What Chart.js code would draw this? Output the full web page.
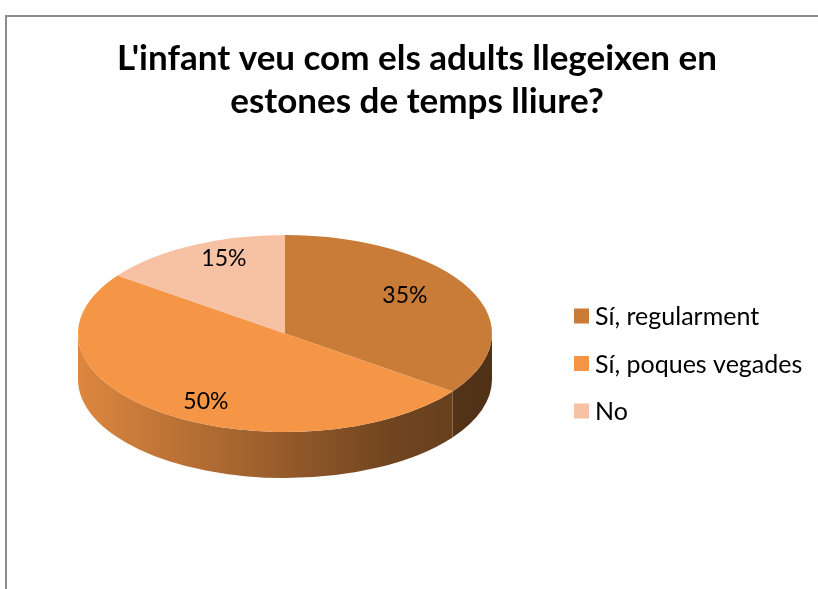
<!DOCTYPE html>
<html>
<head>
<meta charset="utf-8">
<script src="https://cdn.jsdelivr.net/npm/chart.js@4.4.1/dist/chart.umd.min.js"></script>
<style>
  html, body { margin: 0; padding: 0; background: #fff; overflow: hidden; }
  .frame { position: absolute; left: 5px; top: 15px; width: 900px; height: 700px;
           border-top: 2px solid #8c8c8c; border-left: 2px solid #8c8c8c; }
  #pie { position: absolute; left: 0; top: 0; }
</style>
</head>
<body>
<div class="frame"></div>
<canvas id="pie" width="818" height="589"></canvas>
<script>
// chart data
const CATEGORIES = ['Sí, regularment', 'Sí, poques vegades', 'No'];
const VALUES = [35, 50, 15];
const COLORS = ['#C97B38', '#F59646', '#F7C1A4'];
const TITLE = ["L'infant veu com els adults llegeixen en", 'estones de temps lliure?'];

// look of the fake 3D pie
const TILT = 0.476;      // vertical squash of the top face
const DEPTH = 46;        // thickness of the side band
const LABEL_X = 0.65;    // label distance as a fraction of the radius
const LABEL_Y = 0.85;
const LEGEND_WIDTH = 264;
const LEGEND_SHIFT = 30;
const LEGEND_ROW = 47.5;

function shade(hex, k) {
  const n = parseInt(hex.slice(1), 16);
  const r = Math.round(((n >> 16) & 255) * k);
  const g = Math.round(((n >> 8) & 255) * k);
  const b = Math.round((n & 255) * k);
  return `rgb(${r},${g},${b})`;
}

// draws the side of the pie, then squashes the context so the library draws an ellipse
const pie3d = {
  id: 'pie3d',
  beforeDatasetsDraw(chart) {
    const ctx = chart.ctx;
    const arcs = chart.getDatasetMeta(0).data;
    if (!arcs.length) return;
    const cx = arcs[0].x, cy = arcs[0].y, r = arcs[0].outerRadius;
    const ry = r * TILT;

    arcs.forEach((arc, i) => {
      const color = chart.data.datasets[0].backgroundColor[i];
      const grad = ctx.createLinearGradient(cx - r, 0, cx + r, 0);
      grad.addColorStop(0, shade(color, 0.9));
      grad.addColorStop(0.75, shade(color, 0.46));
      grad.addColorStop(1, shade(color, 0.4));
      for (let k = -1; k <= 1; k++) {
        const s = Math.max(arc.startAngle, 2 * Math.PI * k);
        const e = Math.min(arc.endAngle, 2 * Math.PI * k + Math.PI);
        if (e <= s) continue;
        ctx.beginPath();
        ctx.ellipse(cx, cy, r, ry, 0, s, e);
        ctx.ellipse(cx, cy + DEPTH, r, ry, 0, e, s, true);
        ctx.closePath();
        ctx.fillStyle = grad;
        ctx.fill();
      }
    });

    ctx.save();
    ctx.translate(cx, cy);
    ctx.scale(1, TILT);
    ctx.translate(-cx, -cy);
  },
  afterDatasetsDraw(chart) {
    const ctx = chart.ctx;
    ctx.restore();
    const arcs = chart.getDatasetMeta(0).data;
    const values = chart.data.datasets[0].data;
    const total = values.reduce((a, b) => a + b, 0);
    ctx.save();
    ctx.font = '23px Lato';
    ctx.fillStyle = '#000';
    ctx.textAlign = 'center';
    ctx.textBaseline = 'middle';
    arcs.forEach((arc, i) => {
      const mid = (arc.startAngle + arc.endAngle) / 2;
      const x = arc.x + Math.cos(mid) * arc.outerRadius * LABEL_X;
      const y = arc.y + Math.sin(mid) * arc.outerRadius * TILT * LABEL_Y;
      ctx.fillText(Math.round(values[i] / total * 100) + '%', x, y);
    });
    ctx.restore();
  }
};

// legend as its own layout box on the right
const sideLegend = {
  id: 'sideLegend',
  beforeInit(chart) {
    const box = {
      position: 'right', weight: 0, fullSize: false, options: {},
      left: 0, top: 0, right: 0, bottom: 0, width: 0, height: 0,
      isHorizontal() { return false; },
      update(maxWidth, maxHeight) {
        this.width = LEGEND_WIDTH;
        this.height = maxHeight;
      },
      draw() {
        const ctx = chart.ctx;
        const labels = chart.data.labels;
        const colors = chart.data.datasets[0].backgroundColor;
        const midY = (this.top + this.bottom) / 2 + LEGEND_SHIFT;
        ctx.save();
        ctx.font = '25px Lato';
        ctx.textBaseline = 'middle';
        ctx.textAlign = 'left';
        labels.forEach((label, i) => {
          const y = midY + (i - (labels.length - 1) / 2) * LEGEND_ROW;
          ctx.fillStyle = colors[i];
          ctx.fillRect(this.left + 20, y - 7.5, 15, 15);
          ctx.fillStyle = '#000';
          ctx.fillText(label, this.left + 41, y + 1);
        });
        ctx.restore();
      }
    };
    Chart.layouts.addBox(chart, box);
  }
};

new Chart(document.getElementById('pie'), {
  type: 'pie',
  data: {
    labels: CATEGORIES,
    datasets: [{
      data: VALUES,
      backgroundColor: COLORS,
      borderWidth: 0,
      hoverOffset: 0
    }]
  },
  options: {
    responsive: false,
    animation: false,
    events: [],
    layout: { padding: { left: 16, right: 0, top: 0, bottom: 48.5 } },
    plugins: {
      legend: { display: false },
      tooltip: { enabled: false },
      title: {
        display: true,
        text: TITLE,
        color: '#000',
        font: { family: 'Lato', size: 35, weight: 'bold', lineHeight: '43px' },
        padding: { top: 37.5, bottom: 3 }
      }
    }
  },
  plugins: [pie3d, sideLegend]
});
</script>
</body>
</html>
